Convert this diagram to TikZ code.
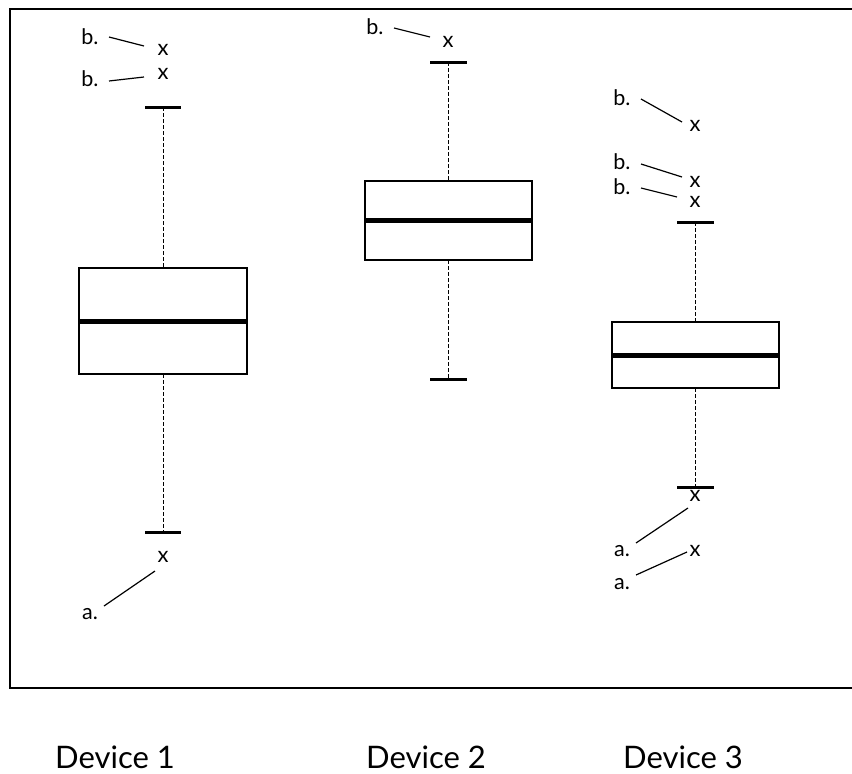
\documentclass[tikz,border=0pt]{standalone}
\usepackage{fontspec}
\setmainfont{Lato}

\begin{document}
\begin{tikzpicture}[x=1pt,y=-1pt,
  boxline/.style={line width=2pt},
  medline/.style={line width=5pt},
  capline/.style={line width=3pt},
  whisk/.style={line width=0.9pt,dash pattern=on 3.5pt off 2.5pt},
  lead/.style={line width=1.2pt},
  outl/.style={font=\fontsize{22}{24}\selectfont,inner sep=0pt},
  lbl/.style={font=\fontsize{21.5}{24}\selectfont,inner sep=0pt},
  dev/.style={font=\fontsize{31}{36}\selectfont,inner sep=0pt,anchor=base}]
\useasboundingbox (0,0) rectangle (852,774);
\draw[line width=2.5pt] (852,9)--(10,9)--(10,688)--(852,688);

% Device 1
\draw[whisk] (163,107)--(163,268);
\draw[whisk] (163,374)--(163,532);
\draw[boxline] (79,268) rectangle (247,374);
\draw[medline] (79,321)--(247,321);
\draw[capline] (145,107)--(181,107);
\draw[capline] (145,532)--(181,532);
\node[outl] (o11) at (163,50) {x};
\node[outl] (o12) at (163,74) {x};
\node[outl] (o13) at (163,557) {x};
\node[lbl] (b11) at (90,37) {b.};
\node[lbl] (b12) at (90,79) {b.};
\node[lbl] (a11) at (90,614) {a.};
\draw[lead] (109,37)--(144,46);
\draw[lead] (109,81)--(144,77);
\draw[lead] (104,606)--(155,571);

% Device 2
\draw[whisk] (448,62)--(448,181);
\draw[whisk] (448,260)--(448,379);
\draw[boxline] (365,181) rectangle (532,260);
\draw[medline] (365,220)--(532,220);
\draw[capline] (430,62)--(467,62);
\draw[capline] (430,379)--(467,379);
\node[outl] (o21) at (448,42) {x};
\node[lbl] (b21) at (375,27) {b.};
\draw[lead] (394,28)--(430,37);

% Device 3
\draw[whisk] (695,222)--(695,322);
\draw[whisk] (695,388)--(695,487);
\draw[boxline] (612,322) rectangle (779,388);
\draw[medline] (612,355)--(779,355);
\draw[capline] (677,222)--(714,222);
\draw[capline] (677,487)--(714,487);
\node[outl] (o31) at (695,126) {x};
\node[outl] (o32) at (695,182) {x};
\node[outl] (o33) at (695,202) {x};
\node[outl] (o34) at (695,496) {x};
\node[outl] (o35) at (695,551) {x};
\node[lbl] (b31) at (622,98) {b.};
\node[lbl] (b32) at (622,162) {b.};
\node[lbl] (b33) at (622,187) {b.};
\node[lbl] (a31) at (622,551) {a.};
\node[lbl] (a32) at (622,584) {a.};
\draw[lead] (641,99)--(682,122);
\draw[lead] (641,164)--(682,177);
\draw[lead] (641,188)--(677,197);
\draw[lead] (636,543)--(688,508);
\draw[lead] (636,575)--(687,552);

% axis labels
\node[dev] (d1) at (115,768) {Device 1};
\node[dev] (d2) at (426,768) {Device 2};
\node[dev] (d3) at (683,768) {Device 3};
\end{tikzpicture}
\end{document}
